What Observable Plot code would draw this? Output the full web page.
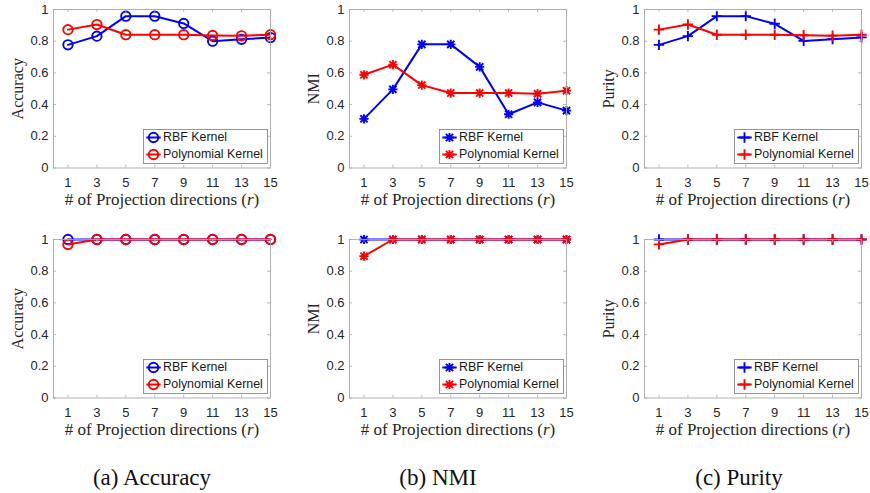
<!DOCTYPE html>
<html><head><meta charset="utf-8">
<script src="https://cdn.jsdelivr.net/npm/d3@7"></script>
<script src="https://cdn.jsdelivr.net/npm/@observablehq/plot@0.6"></script>
<style>
body{margin:0;background:#fff;}
#root{position:relative;width:870px;height:493px;overflow:hidden;background:#fff;}
.panel{position:absolute;width:290px;}
.panel svg{max-width:none !important;}
.cap{position:absolute;font-family:"Liberation Serif","DejaVu Serif",serif;font-size:23px;color:#111;transform:translate(-50%,-50%);white-space:nowrap;}
</style></head><body><div id="root"></div>
<script>
// ---- data ----
const xValues = [1, 3, 5, 7, 9, 11, 13, 15];
const xTicks = [1, 3, 5, 7, 9, 11, 13, 15];
const yTicks = [0, 0.2, 0.4, 0.6, 0.8, 1];
const yTickLabels = ["0", "0.2", "0.4", "0.6", "0.8", "1"];
const seriesNames = ["RBF Kernel", "Polynomial Kernel"];
const seriesColors = ["#0000ff", "#ff0000"];
const xLabel = "# of Projection directions (r)";
const yLabels = ["Accuracy", "NMI", "Purity"];
const captions = ["(a) Accuracy", "(b) NMI", "(c) Purity"];

const accTopRBF  = [0.777, 0.832, 0.958, 0.958, 0.912, 0.800, 0.812, 0.823];
const accTopPoly = [0.873, 0.905, 0.841, 0.841, 0.841, 0.836, 0.834, 0.841];
const nmiTopRBF  = [0.310, 0.496, 0.780, 0.780, 0.638, 0.339, 0.414, 0.362];
const nmiTopPoly = [0.588, 0.652, 0.523, 0.473, 0.473, 0.473, 0.469, 0.488];
const purTopRBF  = [0.777, 0.832, 0.958, 0.958, 0.910, 0.802, 0.813, 0.824];
const purTopPoly = [0.873, 0.905, 0.841, 0.841, 0.841, 0.838, 0.835, 0.841];
const accBotRBF  = [1, 1, 1, 1, 1, 1, 1, 1];
const accBotPoly = [0.969, 1, 1, 1, 1, 1, 1, 1];
const nmiBotRBF  = [1, 1, 1, 1, 1, 1, 1, 1];
const nmiBotPoly = [0.895, 1, 1, 1, 1, 1, 1, 1];
const purBotRBF  = [1, 1, 1, 1, 1, 1, 1, 1];
const purBotPoly = [0.969, 1, 1, 1, 1, 1, 1, 1];

// ---- symbols ----
const rOf = s => Math.sqrt(s / Math.PI);
const symPlus = {draw(c, s){ const r = rOf(s); c.moveTo(-r,0); c.lineTo(r,0); c.moveTo(0,-r); c.lineTo(0,r); }};
const symStar = {draw(c, s){ const r = rOf(s), d = r*0.78; c.moveTo(-d,-d); c.lineTo(d,d); c.moveTo(-d,d); c.lineTo(d,-d); c.moveTo(0,-r); c.lineTo(0,r); c.moveTo(-r,0); c.lineTo(r,0); }};
const symHLine = {draw(c, s){ const r = rOf(s); c.moveTo(-r,0); c.lineTo(r,0); }};
const markers = [
  {symbol: "circle", r: 4.7},
  {symbol: symStar, r: 4.6},
  {symbol: symPlus, r: 5.2}
];

const panels = [
  {col: 0, row: 0, rbf: accTopRBF, poly: accTopPoly},
  {col: 1, row: 0, rbf: nmiTopRBF, poly: nmiTopPoly},
  {col: 2, row: 0, rbf: purTopRBF, poly: purTopPoly},
  {col: 0, row: 1, rbf: accBotRBF, poly: accBotPoly},
  {col: 1, row: 1, rbf: nmiBotRBF, poly: nmiBotPoly},
  {col: 2, row: 1, rbf: purBotRBF, poly: purBotPoly}
];

const root = document.getElementById("root");
const colLeft = [0, 295.5, 591.2];
const rowTop = [0, 230.3];
const AX = "#a8a8a8";
const SERIF = "Liberation Serif, DejaVu Serif, serif";

function makePanel(p) {
  const W = 290, H = 214, mL = 53, mR = 20, mT = 9, mB = 46.5;
  const fw = W - mL - mR, fh = H - mT - mB;
  const mk = markers[p.col];
  const series = [p.rbf, p.poly].map(vals => xValues.map((x, i) => ({x, y: vals[i]})));
  const marks = [];
  series.forEach((d, k) => {
    marks.push(Plot.line(d, {x: "x", y: "y", stroke: seriesColors[k], strokeWidth: 2}));
    marks.push(Plot.dot(d, {x: "x", y: "y", symbol: mk.symbol, r: mk.r, stroke: seriesColors[k], fill: "none", strokeWidth: 1.9}));
  });
  // inward ticks
  marks.push(Plot.tickX(xTicks, {x: d => d, insetTop: fh - 3, stroke: AX, strokeWidth: 0.8}));
  marks.push(Plot.tickX(xTicks, {x: d => d, insetBottom: fh - 3, stroke: AX, strokeWidth: 0.8}));
  marks.push(Plot.tickY(yTicks, {y: d => d, insetRight: fw - 3, stroke: AX, strokeWidth: 0.8}));
  marks.push(Plot.tickY(yTicks, {y: d => d, insetLeft: fw - 3, stroke: AX, strokeWidth: 0.8}));
  marks.push(Plot.frame({stroke: AX, strokeWidth: 0.9}));
  marks.push(Plot.axisX({ticks: xTicks, tickSize: 0, tickPadding: 10, label: null, fill: "#262626", fontSize: 13}));
  marks.push(Plot.axisY({ticks: yTicks, tickFormat: d => yTickLabels[yTicks.indexOf(d)], tickSize: 0, tickPadding: 5, label: null, fill: "#262626", fontSize: 13}));
  // axis labels
  marks.push(Plot.text([xLabel], {text: d => d, frameAnchor: "bottom", lineAnchor: "middle", textAnchor: "middle", dy: 31.5, fontFamily: SERIF, fontSize: 17, fill: "#262626"}));
  marks.push(Plot.text([yLabels[p.col]], {text: d => d, frameAnchor: "left", lineAnchor: "middle", textAnchor: "middle", dx: -36, rotate: -90, fontFamily: SERIF, fontSize: 16, fill: "#262626"}));
  // legend
  const lgW = 124, lgH = 34, lgB = 4.5;
  marks.push(Plot.frame({fill: "white", stroke: "#8c8c8c", strokeWidth: 0.9, insetLeft: 90, insetRight: fw - 90 - lgW, insetTop: fh - lgB - lgH, insetBottom: lgB}));
  const rowsDy = [-30.5, -13.5];
  rowsDy.forEach((dy, k) => {
    marks.push(Plot.dot([0], {frameAnchor: "bottom-left", dx: 100, dy, symbol: symHLine, r: 7.2, stroke: seriesColors[k], strokeWidth: 2, fill: "none"}));
    marks.push(Plot.dot([0], {frameAnchor: "bottom-left", dx: 100, dy, symbol: mk.symbol, r: mk.r, stroke: seriesColors[k], strokeWidth: 1.9, fill: "none"}));
    marks.push(Plot.text([seriesNames[k]], {text: d => d, frameAnchor: "bottom-left", dx: 109.5, dy, textAnchor: "start", lineAnchor: "middle", fontSize: 12.4, fill: "#1a1a1a"}));
  });
  const svg = Plot.plot({
    width: W, height: H, marginLeft: mL, marginRight: mR, marginTop: mT, marginBottom: mB,
    style: {background: "transparent", overflow: "visible", fontFamily: "Liberation Sans, Arial, sans-serif", fontSize: "13px", color: "#262626", maxWidth: "none"},
    x: {domain: [0, 15], label: null},
    y: {domain: [0, 1], label: null},
    marks
  });
  // italic r in x label
  svg.querySelectorAll("text").forEach(t => {
    if (t.textContent === xLabel) {
      t.textContent = "";
      const ns = "http://www.w3.org/2000/svg";
      const a = document.createElementNS(ns, "tspan"); a.textContent = "# of Projection directions (";
      const b = document.createElementNS(ns, "tspan"); b.textContent = "r"; b.setAttribute("font-style", "italic");
      const c = document.createElementNS(ns, "tspan"); c.textContent = ")";
      t.append(a, b, c);
    }
  });
  const div = document.createElement("div");
  div.className = "panel";
  div.style.left = colLeft[p.col] + "px";
  div.style.top = rowTop[p.row] + "px";
  div.appendChild(svg);
  root.appendChild(div);
}
panels.forEach(makePanel);

const capX = [152, 438, 739];
captions.forEach((c, i) => {
  const d = document.createElement("div");
  d.className = "cap";
  d.textContent = c;
  d.style.left = capX[i] + "px";
  d.style.top = "478px";
  root.appendChild(d);
});
</script>
</body></html>
